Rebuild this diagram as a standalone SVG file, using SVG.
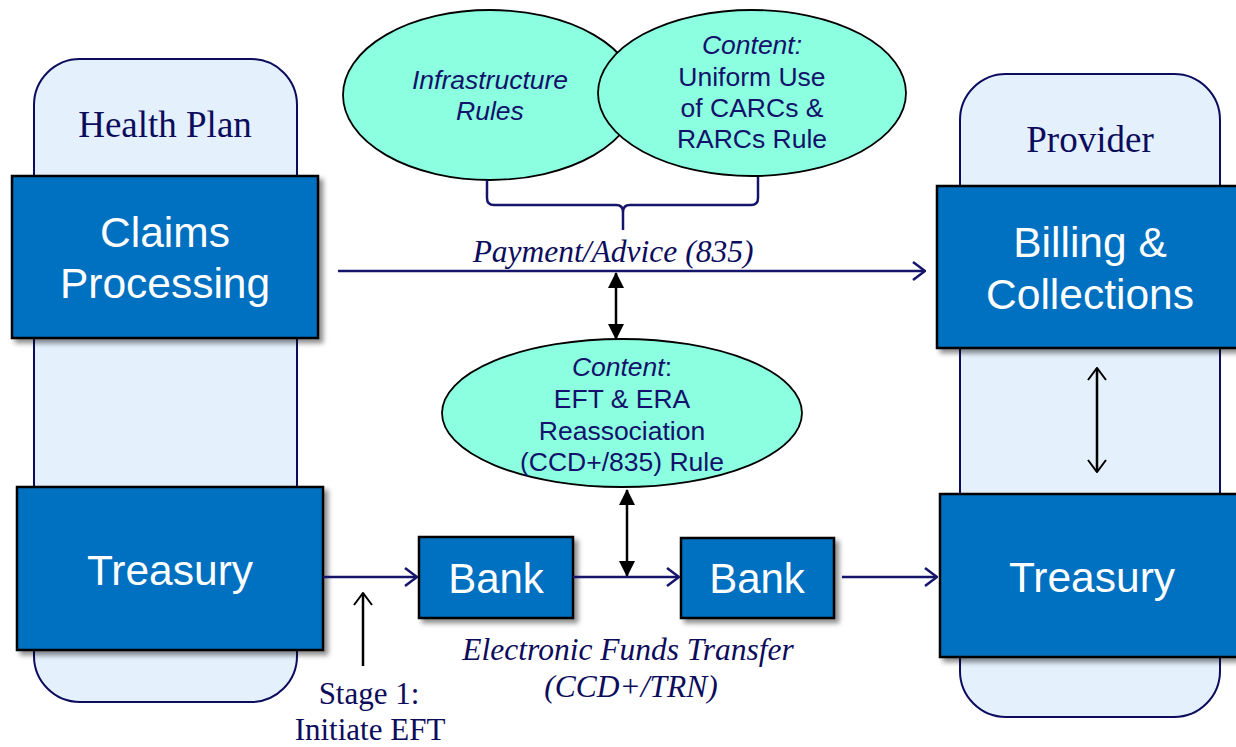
<svg xmlns="http://www.w3.org/2000/svg" width="1236" height="747" viewBox="0 0 1236 747">
<style>
.panel{fill:#e4f0fc;stroke:#0c0c5c;stroke-width:2}
.box{fill:#0070c0;stroke:#000;stroke-width:2.5;filter:url(#sh)}
.ell{fill:#8bffe0;stroke:#000;stroke-width:1.8}
.wt{font-family:"Liberation Sans",Arial,sans-serif;fill:#fff;text-anchor:middle}
.et{font-family:"Liberation Sans",Arial,sans-serif;fill:#12126a;font-size:26.5px;text-anchor:middle}
.st{font-family:"Liberation Serif","Times New Roman",serif;fill:#0c0c5c;text-anchor:middle}
.nav{stroke:#14146b;stroke-width:2.5;fill:none}
.blk{stroke:#000;stroke-width:2.5;fill:none}
</style>
<defs>
<filter id="sh" x="-10%" y="-10%" width="130%" height="130%">
<feDropShadow dx="4" dy="4" stdDeviation="2.5" flood-color="#000" flood-opacity="0.45"/>
</filter>
<marker id="navArrow" markerUnits="userSpaceOnUse" viewBox="0 0 14 20" refX="13" refY="10" markerWidth="14" markerHeight="20" orient="auto">
<path d="M1,1 L13,10 L1,19" fill="none" stroke="#14146b" stroke-width="2.5"/>
</marker>
<marker id="blkOpen" markerUnits="userSpaceOnUse" viewBox="0 0 14 20" refX="13" refY="10" markerWidth="14" markerHeight="20" orient="auto-start-reverse">
<path d="M1,1 L13,10 L1,19" fill="none" stroke="#000" stroke-width="2"/>
</marker>
<marker id="blkTri" markerUnits="userSpaceOnUse" viewBox="0 0 16 16" refX="15" refY="8" markerWidth="16" markerHeight="16" orient="auto-start-reverse">
<path d="M0,0 L16,8 L0,16 Z" fill="#000"/>
</marker>
</defs>

<g id="health-plan-panel">
<rect class="panel" x="34" y="59" width="263" height="643" rx="46"/>
<text class="st" x="165" y="137" font-size="37">Health Plan</text>
</g>
<g id="provider-panel">
<rect class="panel" x="960" y="74" width="260" height="643" rx="46"/>
<text class="st" x="1090" y="152" font-size="37">Provider</text>
</g>

<g id="claims-processing">
<rect class="box" x="12" y="176" width="306" height="162"/>
<text class="wt" x="165" y="247" font-size="42.5">Claims</text>
<text class="wt" x="165" y="298" font-size="42.5">Processing</text>
</g>
<g id="treasury-left">
<rect class="box" x="17" y="487" width="306" height="163"/>
<text class="wt" x="170" y="585" font-size="42.5">Treasury</text>
</g>
<g id="billing-collections">
<rect class="box" x="937" y="186" width="306" height="162"/>
<text class="wt" x="1090" y="257" font-size="42.5">Billing &amp;</text>
<text class="wt" x="1090" y="309" font-size="42.5">Collections</text>
</g>
<g id="treasury-right">
<rect class="box" x="940" y="494" width="306" height="163"/>
<text class="wt" x="1092" y="592" font-size="42.5">Treasury</text>
</g>
<g id="bank-1">
<rect class="box" x="419" y="537" width="154" height="81"/>
<text class="wt" x="496" y="593" font-size="42">Bank</text>
</g>
<g id="bank-2">
<rect class="box" x="681" y="538" width="153" height="80"/>
<text class="wt" x="757" y="593" font-size="42">Bank</text>
</g>

<g id="infrastructure-rules">
<ellipse class="ell" cx="490" cy="95" rx="147" ry="85"/>
<text class="et" font-style="italic" x="490" y="89">Infrastructure</text>
<text class="et" font-style="italic" x="490" y="120">Rules</text>
</g>
<g id="carc-rarc-rule">
<ellipse class="ell" cx="752" cy="93" rx="154" ry="83"/>
<text class="et" font-style="italic" x="752" y="54">Content:</text>
<text class="et" x="752" y="86">Uniform Use</text>
<text class="et" x="752" y="117">of CARCs &amp;</text>
<text class="et" x="752" y="148">RARCs Rule</text>
</g>
<g id="reassociation-rule">
<ellipse class="ell" cx="622" cy="413" rx="180" ry="74"/>
<text class="et" x="622" y="376"><tspan font-style="italic">Content</tspan>:</text>
<text class="et" x="622" y="408">EFT &amp; ERA</text>
<text class="et" x="622" y="440">Reassociation</text>
<text class="et" x="622" y="471">(CCD+/835) Rule</text>
</g>

<g id="labels">
<text class="st" font-style="italic" x="613" y="262" font-size="31.5">Payment/Advice (835)</text>
<text class="st" font-style="italic" x="628" y="660" font-size="31.5">Electronic Funds Transfer</text>
<text class="st" font-style="italic" x="631" y="697" font-size="31.5">(CCD+/TRN)</text>
<text class="st" x="369" y="704" font-size="31">Stage 1:</text>
<text class="st" x="370" y="740" font-size="31">Initiate EFT</text>
</g>

<g id="connectors">
<path class="nav" stroke-width="2" d="M487,180 V198 Q487,205 494,205 H616 Q623,205 623,212 V230 M623,212 Q623,205 630,205 H751 Q758,205 758,198 V177"/>
<line class="nav" x1="338" y1="271" x2="925" y2="271" marker-end="url(#navArrow)"/>
<line class="blk" x1="616" y1="273" x2="616" y2="339" marker-start="url(#blkTri)" marker-end="url(#blkTri)"/>
<line class="blk" x1="627" y1="490" x2="627" y2="576" marker-start="url(#blkTri)" marker-end="url(#blkTri)"/>
<line class="blk" stroke-width="2" x1="1097" y1="368" x2="1097" y2="472" marker-start="url(#blkOpen)" marker-end="url(#blkOpen)"/>
<line class="nav" x1="323" y1="577" x2="417" y2="577" marker-end="url(#navArrow)"/>
<line class="nav" x1="573" y1="577" x2="679" y2="577" marker-end="url(#navArrow)"/>
<line class="nav" x1="842" y1="577" x2="937" y2="577" marker-end="url(#navArrow)"/>
<line class="blk" stroke-width="2" x1="363" y1="666" x2="363" y2="593" marker-end="url(#blkOpen)"/>
</g>
</svg>
